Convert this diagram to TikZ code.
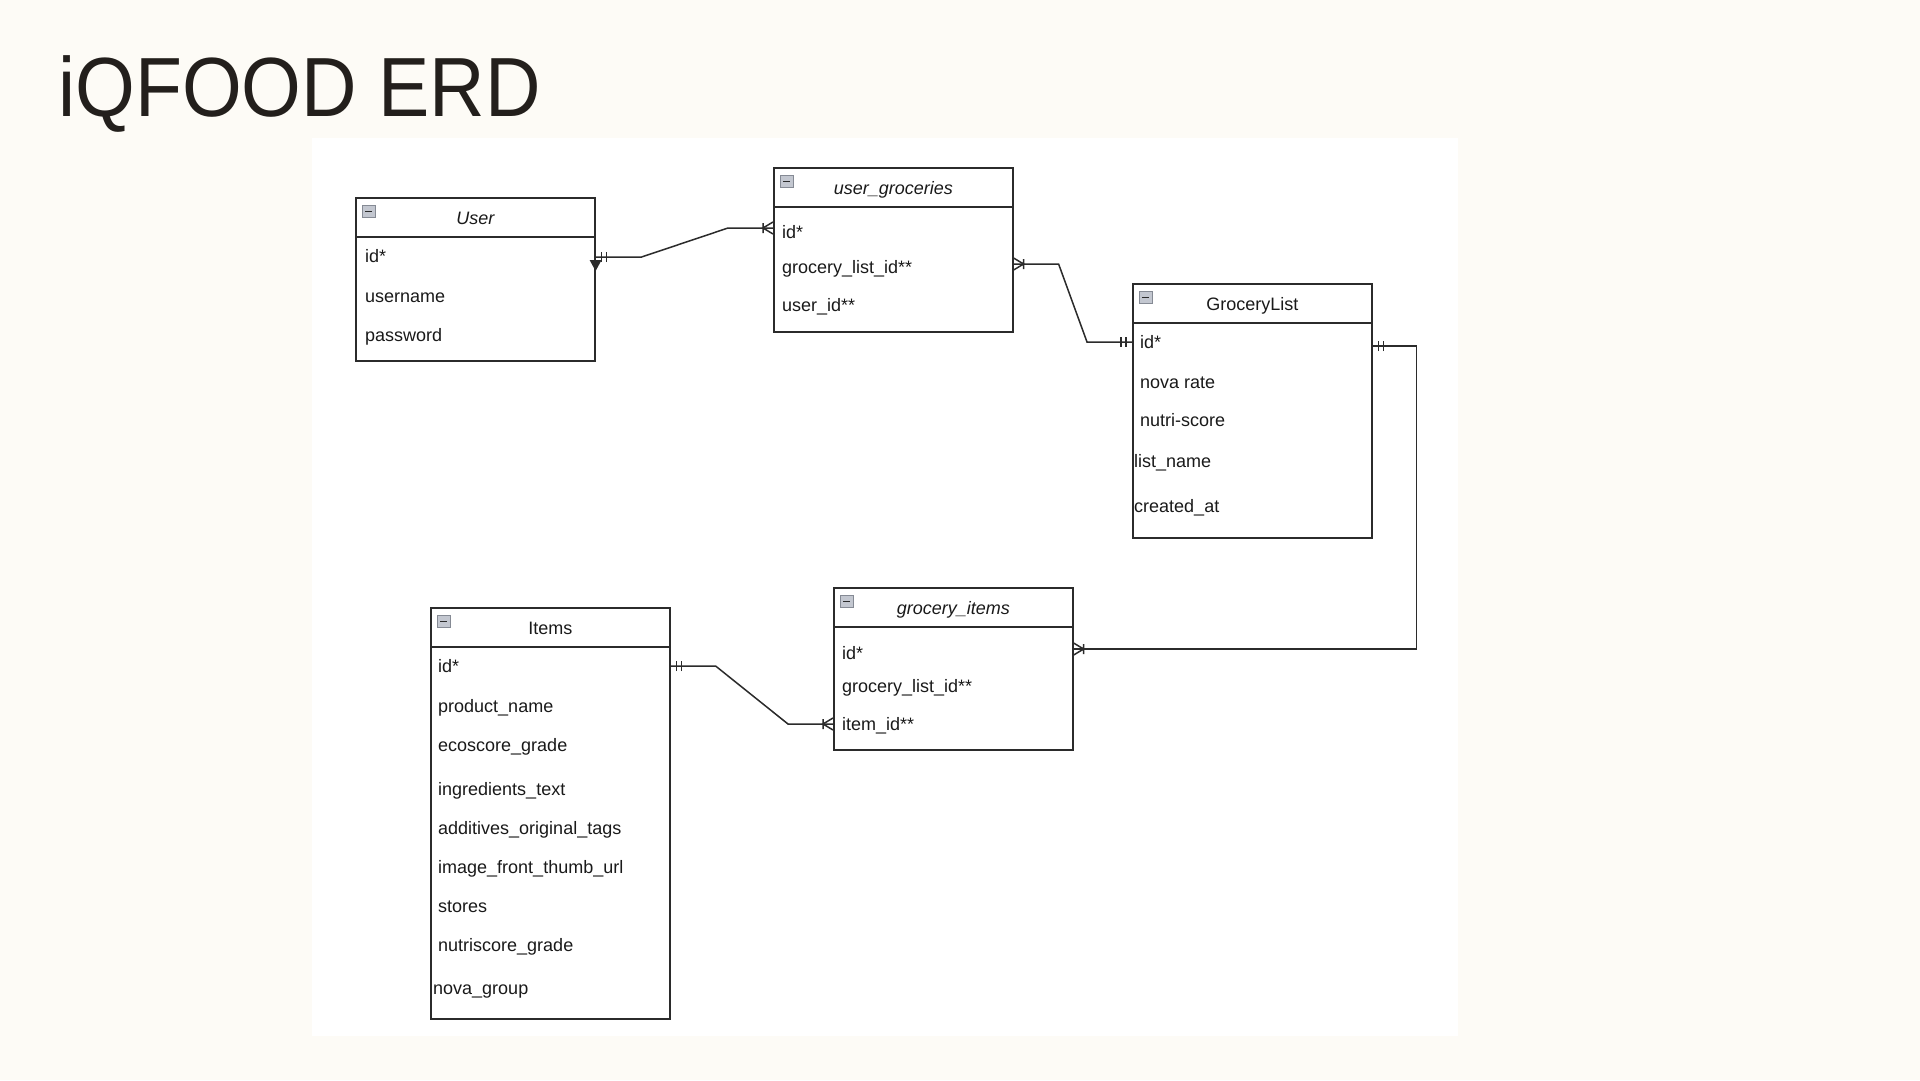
\documentclass[tikz,border=0pt]{standalone}
\usepackage{fontspec}
\setmainfont{Liberation Sans}
\newfontfamily\titlefont[FakeStretch=0.915]{Liberation Sans}
\usepackage{xcolor}
\usepackage{tikz}
\usetikzlibrary{calc}

\definecolor{bgcream}{HTML}{FDFBF6}
\definecolor{linegray}{HTML}{2B2B2B}
\definecolor{textdark}{HTML}{1A1A1A}
\definecolor{titlecol}{HTML}{231F1C}
\definecolor{iconfill}{HTML}{C3C7D0}
\definecolor{iconedge}{HTML}{858A94}

\tikzset{
    mandone/.pic={\draw[link] (6pt,-5pt) -- (6pt,5pt) (11pt,-5pt) -- (11pt,5pt);},
    crowmany/.pic={\draw[link] (0pt,-6pt) -- (10pt,0pt) -- (0pt,6pt) (10pt,-5pt) -- (10pt,5pt);},
}

\begin{document}
\begin{tikzpicture}[
    x=1pt, y=-1pt,
    entity/.style={draw=linegray, line width=1.6pt, fill=white, anchor=north west, minimum width=239pt, inner sep=0pt},
    divider/.style={draw=linegray, line width=2pt},
    head/.style={anchor=base, inner sep=0pt, font=\fontsize{18}{22}\selectfont, text=textdark},
    field/.style={anchor=base west, inner sep=0pt, text height=15pt, text depth=3pt, font=\fontsize{18}{22}\selectfont, text=textdark},
    toggle/.style={draw=iconedge, fill=iconfill, line width=0.9pt, anchor=north west, minimum width=13pt, minimum height=12pt, inner sep=0pt,
        path picture={\draw[linegray, line width=1.8pt] ([xshift=3pt]path picture bounding box.west) -- ([xshift=-3pt]path picture bounding box.east);}},
    link/.style={draw=linegray, line width=1.5pt},
]
    % page and panel
    \fill[bgcream] (0,0) rectangle (1920,1080);
    \fill[white] (312,138) rectangle (1458,1036);
    \node[anchor=base west, inner sep=0pt, text=titlecol, font=\titlefont\fontsize{84}{90}\selectfont] (title) at (58,116) {iQFOOD ERD};

    % User
    \node[entity, minimum height=163pt] (user) at (355,197) {};
    \draw[divider] ([yshift=-39.5pt]user.north west) -- ([yshift=-39.5pt]user.north east);
    \node[toggle] (user-tg) at ([shift={(7pt,-8pt)}]user.north west) {};
    \node[head] (user-h) at ([yshift=-27pt]user.north) {\itshape User};
    \node[field] (user-id) at (365,262) {id*};
    \node[field] (user-name) at (365,302) {username};
    \node[field] (user-pw) at (365,341) {password};

    % user_groceries
    \node[entity, minimum height=164pt] (ug) at (773,167) {};
    \draw[divider] ([yshift=-39.5pt]ug.north west) -- ([yshift=-39.5pt]ug.north east);
    \node[toggle] (ug-tg) at ([shift={(7pt,-8pt)}]ug.north west) {};
    \node[head] (ug-h) at ([yshift=-27pt]ug.north) {\itshape user\_groceries};
    \node[field] (ug-id) at (782,238) {id*};
    \node[field] (ug-list) at (782,273) {grocery\_list\_id**};
    \node[field] (ug-user) at (782,311) {user\_id**};

    % GroceryList
    \node[entity, minimum height=254pt] (gl) at (1132,283) {};
    \draw[divider] ([yshift=-39.5pt]gl.north west) -- ([yshift=-39.5pt]gl.north east);
    \node[toggle] (gl-tg) at ([shift={(7pt,-8pt)}]gl.north west) {};
    \node[head] (gl-h) at ([yshift=-27pt]gl.north) {GroceryList};
    \node[field] (gl-id) at (1140,348) {id*};
    \node[field] (gl-nova) at (1140,388) {nova rate};
    \node[field] (gl-nutri) at (1140,426) {nutri-score};
    \node[field] (gl-name) at (1134,467) {list\_name};
    \node[field] (gl-date) at (1134,512) {created\_at};

    % grocery_items
    \node[entity, minimum height=162pt] (gi) at (833,587) {};
    \draw[divider] ([yshift=-39.5pt]gi.north west) -- ([yshift=-39.5pt]gi.north east);
    \node[toggle] (gi-tg) at ([shift={(7pt,-8pt)}]gi.north west) {};
    \node[head] (gi-h) at ([yshift=-27pt]gi.north) {\itshape grocery\_items};
    \node[field] (gi-id) at (842,659) {id*};
    \node[field] (gi-list) at (842,692) {grocery\_list\_id**};
    \node[field] (gi-item) at (842,730) {item\_id**};

    % Items
    \node[entity, minimum height=411pt] (it) at (430,607) {};
    \draw[divider] ([yshift=-39.5pt]it.north west) -- ([yshift=-39.5pt]it.north east);
    \node[toggle] (it-tg) at ([shift={(7pt,-8pt)}]it.north west) {};
    \node[head] (it-h) at ([yshift=-27pt]it.north) {Items};
    \node[field] (it-id) at (438,672) {id*};
    \node[field] (it-prod) at (438,712) {product\_name};
    \node[field] (it-eco) at (438,751) {ecoscore\_grade};
    \node[field] (it-ingr) at (438,795) {ingredients\_text};
    \node[field] (it-add) at (438,834) {additives\_original\_tags};
    \node[field] (it-img) at (438,873) {image\_front\_thumb\_url};
    \node[field] (it-store) at (438,912) {stores};
    \node[field] (it-nutri) at (438,951) {nutriscore\_grade};
    \node[field] (it-nova) at (433,994) {nova\_group};

    % relation ends, nudged onto the connector rows
    \coordinate (r1a) at ($(user.east |- user-id)+(0,1)$);
    \coordinate (r1b) at ($(ug.west |- ug-id)+(0,-4)$);
    \coordinate (r2a) at ($(ug.east |- ug-list)+(0,-3)$);
    \coordinate (r2b) at (gl.west |- gl-id);
    \coordinate (r3a) at ($(gl.east |- gl-id)+(0,4)$);
    \coordinate (r3b) at ($(gi.east |- gi-id)+(0,-4)$);
    \coordinate (r4a) at (it.east |- it-id);
    \coordinate (r4b) at (gi.west |- gi-item);

    % relations
    \draw[link] (r1a) -- ++(46,0) -- ($(r1b)+(-45,0)$) -- (r1b);
    \pic at (r1a) {mandone};
    \pic[rotate=180] at (r1b) {crowmany};
    \fill[linegray] ($(user.east |- user-id)+(-6,4)$) -- ++(12,0) -- ++(-6,11) -- cycle;

    \draw[link] (r2a) -- ++(45,0) -- ($(r2b)+(-45,0)$) -- (r2b);
    \pic at (r2a) {crowmany};
    \pic[rotate=180] at (r2b) {mandone};

    \draw[link] (r3a) -- ++(44,0) |- (r3b);
    \pic at (r3a) {mandone};
    \pic at (r3b) {crowmany};

    \draw[link] (r4a) -- ++(45,0) -- ($(r4b)+(-45,0)$) -- (r4b);
    \pic at (r4a) {mandone};
    \pic[rotate=180] at (r4b) {crowmany};
\end{tikzpicture}
\end{document}
